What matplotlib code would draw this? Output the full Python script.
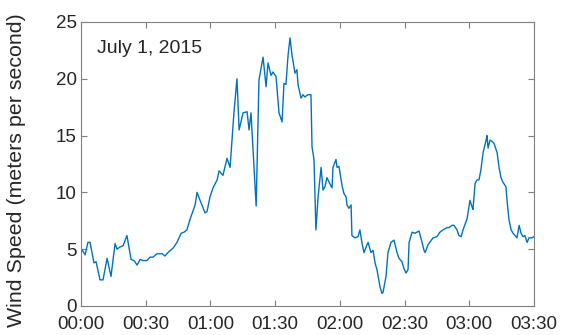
import matplotlib
matplotlib.use("Agg")
import matplotlib.pyplot as plt

# Wind speed record, minutes after midnight and metres per second
minutes = [0.0, 1.9, 3.2, 4.2, 6.0, 7.0, 8.8, 10.2, 12.1, 13.9, 15.8, 16.7, 18.1, 19.5,
           21.3, 23.2, 24.6, 26.0, 27.4, 28.7, 30.6, 32.0, 33.4, 35.2, 37.6, 38.9, 40.3,
           42.7, 44.5, 46.4, 47.8, 49.1, 50.5, 52.9, 53.8, 55.2, 57.5, 58.4, 59.8, 61.2,
           63.1, 64.0, 65.8, 67.7, 69.1, 70.9, 72.3, 73.3, 75.1, 77.0, 77.9, 78.8, 81.2,
           82.5, 84.4, 85.8, 86.7, 88.1, 89.0, 90.4, 91.8, 93.2, 94.1, 95.0, 96.0, 96.9,
           97.8, 99.2, 100.1, 100.6, 102.0, 102.9, 103.8, 105.2, 106.6, 107.1, 108.0,
           108.9, 109.9, 111.3, 112.2, 113.1, 114.0, 115.0, 116.4, 116.8, 118.2, 118.7,
           119.6, 121.0, 121.9, 122.9, 123.3, 124.2, 125.2, 125.6, 127.0, 128.4, 129.3,
           130.3, 131.2, 132.6, 133.1, 134.4, 135.4, 136.3, 137.2, 138.6, 139.5, 140.0,
           141.4, 142.3, 143.7, 145.1, 146.5, 147.4, 148.8, 149.7, 150.7, 151.6, 152.1,
           153.5, 154.8, 156.7, 158.1, 159.0, 159.5, 160.9, 163.2, 165.0, 166.4, 167.8,
           169.7, 170.6, 172.0, 172.9, 174.3, 175.2, 176.2, 177.1, 179.0, 180.3, 181.3,
           181.7, 182.7, 183.6, 184.5, 185.4, 186.4, 187.8, 188.2, 188.7, 189.6, 190.5,
           191.5, 192.9, 193.8, 194.7, 195.6, 197.0, 197.5, 198.4, 199.4, 200.3, 201.7,
           202.1, 203.1, 204.0, 204.9, 205.8, 206.8, 207.7, 209.1, 210.0]
speed = [5.1, 4.5, 5.6, 5.6, 3.8, 3.9, 2.3, 2.3, 4.2, 2.6, 5.5, 5.0, 5.2, 5.3,
         6.2, 4.1, 4.0, 3.6, 4.1, 4.0, 4.0, 4.3, 4.3, 4.6, 4.6, 4.4, 4.7,
         5.1, 5.6, 6.4, 6.5, 6.7, 7.6, 8.9, 10.0, 9.3, 8.2, 8.3, 9.6, 10.4,
         11.1, 11.9, 11.5, 13.0, 12.2, 17.0, 20.0, 15.5, 17.0, 17.1, 15.5, 17.0, 8.8,
         19.9, 21.9, 19.3, 21.4, 20.3, 20.6, 20.2, 17.0, 16.2, 19.6, 19.5, 22.1, 23.6,
         22.1, 20.5, 20.8, 19.5, 18.3, 18.6, 18.4, 18.6, 18.6, 14.0, 12.9,
         6.7, 9.6, 12.2, 10.2, 10.5, 11.3, 10.9, 10.4, 12.2, 12.9, 12.2,
         12.3, 10.6, 9.9, 9.6, 8.9, 8.6, 8.9, 6.2, 6.0, 6.1, 6.7,
         5.5, 4.7, 5.4, 5.6, 4.7, 4.9, 3.8, 3.2, 1.7, 1.1, 1.2,
         2.6, 4.7, 5.6, 5.8, 4.7, 4.2, 3.9, 3.3, 2.9, 3.2, 5.6,
         6.5, 6.4, 6.6, 5.6, 4.9, 4.7, 5.4, 6.0, 6.1, 6.5, 6.7,
         6.9, 6.9, 7.1, 7.1, 6.7, 6.2, 6.1, 6.7, 7.7, 9.3, 8.7,
         8.5, 10.8, 11.1, 11.1, 12.0, 13.5, 14.6, 15.0, 13.9, 14.6, 14.5,
         14.3, 13.5, 12.2, 11.3, 10.9, 10.5, 9.3, 7.6, 6.7, 6.4, 6.1,
         6.0, 7.1, 6.4, 6.1, 6.2, 5.6, 6.0, 6.0, 6.1]

tick_minutes = [0, 30, 60, 90, 120, 150, 180, 210]
tick_labels = ["00:00", "00:30", "01:00", "01:30", "02:00", "02:30", "03:00", "03:30"]
y_ticks = [0, 5, 10, 15, 20, 25]
date_label = "July 1, 2015"

plt.rcParams['font.family'] = ['Liberation Sans', 'DejaVu Sans']
axis_gray = '#808080'
text_dark = '#262626'

fig = plt.figure(figsize=(5.74, 3.35), dpi=100)
ax = fig.add_axes([81 / 574, 1 - 306 / 335, 453 / 574, 284 / 335])

ax.plot(minutes, speed, color='#0072BD', lw=1.0)

ax.set_xlim(0, 210)
ax.set_ylim(0, 25)
ax.set_xticks(tick_minutes)
ax.set_xticklabels(tick_labels)
ax.set_yticks(y_ticks)

for side in ax.spines.values():
    side.set_color(axis_gray)
    side.set_linewidth(0.8)

ax.tick_params(direction='in', length=4, width=0.8, color=axis_gray,
               labelcolor=text_dark, labelsize=13.5, top=True, right=True)
ax.tick_params(axis='x', pad=7)
ax.tick_params(axis='y', pad=3)
ax.set_ylabel("Wind Speed (meters per second)", fontsize=15.4, color=text_dark)
ax.yaxis.set_label_coords(-0.121, 0.48)

ax.text(0.035, 0.905, date_label, transform=ax.transAxes, fontsize=14,
        color=text_dark, ha='left', va='center')

fig.savefig("out.png", dpi=100)
